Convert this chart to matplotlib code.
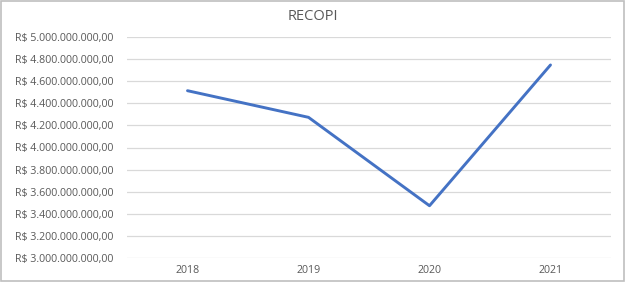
import matplotlib.pyplot as plt
from matplotlib.ticker import FuncFormatter, MultipleLocator
from matplotlib.patches import Rectangle

years = ['2018', '2019', '2020', '2021']
recopi = [4_514_000_000, 4_273_000_000, 3_473_000_000, 4_747_000_000]

TEXT = '#595959'
GRID = '#d9d9d9'
LINE = '#4472c4'


def brl(v, pos=None):
    s = f'{v:,.2f}'
    s = s.replace(',', 'X').replace('.', ',').replace('X', '.')
    return f'R$ {s}'


plt.rcParams['font.family'] = ['Open Sans', 'DejaVu Sans']

fig = plt.figure(figsize=[6.26, 2.82], dpi=100)
ax = fig.add_axes([127 / 626, 24 / 282, (611 - 127) / 626, (258 - 37) / 282])

x = range(len(years))
ax.plot(x, recopi, color=LINE, linewidth=2.1, solid_capstyle='round')

ax.set_xlim(-0.5, len(years) - 0.5)
ax.set_ylim(3_000_000_000, 5_000_000_000)
ax.yaxis.set_major_locator(MultipleLocator(200_000_000))
ax.yaxis.set_major_formatter(FuncFormatter(brl))
ax.set_xticks(list(x))
ax.set_xticklabels(years)

ax.grid(axis='y', color=GRID, linewidth=0.9)
ax.set_axisbelow(True)
for s in ax.spines.values():
    s.set_visible(False)
ax.tick_params(length=0, labelsize=7.7, colors=TEXT)
ax.tick_params(axis='y', pad=10)
ax.tick_params(axis='x', pad=5)

fig.text(313 / 626, 1 - 17 / 282, 'RECOPI', ha='center', va='center',
         fontsize=10.5, color=TEXT)

fig.patches.append(Rectangle((0.002, 0.004), 0.995, 0.992, transform=fig.transFigure,
                             fill=False, edgecolor='#bfbfbf', linewidth=1.2))

fig.savefig('out.png', dpi=100, facecolor='white')
